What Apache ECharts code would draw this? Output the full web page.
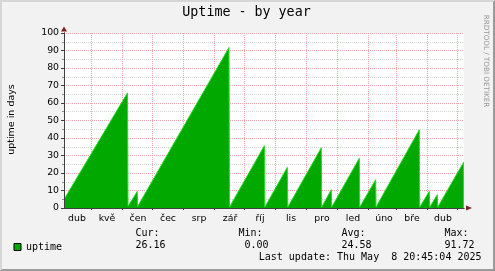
<!DOCTYPE html>
<html><head><meta charset="utf-8">
<script src="https://cdn.jsdelivr.net/npm/echarts@6/dist/echarts.min.js"></script>
<style>html,body{margin:0;padding:0;background:#f2f2f2}#c{width:495px;height:271px}</style>
</head><body><div id="c"></div>
<script>
// ---- data ----
const monthLabels = ['dub','kvě','čen','čec','srp','zář','říj','lis','pro','led','úno','bře','dub'];
const labelDays = [13, 43, 74, 104, 135, 166, 196, 227, 258, 289, 320, 348, 379];
const monthStartDays = [27, 58, 88, 119, 150, 180, 211, 242, 273, 304, 332, 363, 393];
const uptimeDays = [0, 63.5, 64, 73.3, 73.6, 165, 165.5, 200.4, 200.8, 223.3, 223.8, 257.3, 257.7, 267.3, 267.7, 295.3, 295.7, 311.7, 312, 355.3, 355.7, 365.3, 365.7, 373.3, 373.7, 399.7];
const uptimeValues = [4.8, 65.8, 1, 9.5, 0.8, 91.7, 0.5, 35.6, 0.5, 23.2, 0.5, 34.4, 0.5, 10.5, 0.5, 28.4, 0.5, 16.2, 0.5, 44.7, 0.5, 9.5, 0.5, 7.6, 0.5, 26.2];
const statLabels = ['Cur:', 'Min:', 'Avg:', 'Max:'];
const statValues = ['26.16', '0.00', '24.58', '91.72'];
const titleText = 'Uptime - by year';
const yAxisName = 'uptime in days';
const lastUpdate = 'Last update: Thu May  8 20:45:04 2025';
const watermark = 'RRDTOOL / TOBI OETIKER';

// ---- styles ----
const MONO = 'DejaVu Sans Mono';
const SANS = 'DejaVu Sans';
const axisFont = {fontFamily: SANS, fontSize: 9.33, color: '#000'};
const MGRID = '#F2A8A8', GRID = '#D4D4D4', AXIS = '#404040', ARROW = '#7F1F1F';
const statX = [135.5, 238.5, 341.5, 444.5];

const chart = echarts.init(document.getElementById('c'), null, {renderer: 'canvas'});

const graphics = [
  {type: 'polygon', silent: true, shape: {points: [[0,271],[2,269],[2,2],[493,2],[495,0],[0,0]]}, style: {fill: '#D6D6D6'}},
  {type: 'polygon', silent: true, shape: {points: [[2,269],[493,269],[493,2],[495,0],[495,271],[0,271]]}, style: {fill: '#9A9A9A'}},
  {type: 'text', silent: true, x: 246.5, y: 12.8, style: {text: titleText, font: '13.33px "' + MONO + '"', fill: '#000', align: 'center', verticalAlign: 'middle'}},
  {type: 'text', silent: true, x: 12, y: 119.5, rotation: Math.PI / 2, style: {text: yAxisName, font: '9.5px "' + SANS + '"', fill: '#000', align: 'center', verticalAlign: 'middle'}},
  {type: 'text', silent: true, x: 485.5, y: 61, rotation: -Math.PI / 2, style: {text: watermark, font: '7.2px "' + SANS + '"', fill: '#999999', align: 'center', verticalAlign: 'middle'}},
  {type: 'text', silent: true, x: 481.5, y: 257, style: {text: lastUpdate, font: '10px "' + MONO + '"', fill: '#000', align: 'right', verticalAlign: 'middle'}}
];
statLabels.forEach((s, i) => {
  graphics.push({type: 'text', silent: true, x: statX[i], y: 233.3, style: {text: s, font: '10px "' + MONO + '"', fill: '#000', align: 'left', verticalAlign: 'middle'}});
  graphics.push({type: 'text', silent: true, x: statX[i] + 30.1, y: 245.5, style: {text: statValues[i], font: '10px "' + MONO + '"', fill: '#000', align: 'right', verticalAlign: 'middle'}});
});

const option = {
  backgroundColor: '#f2f2f2',
  animation: false,
  grid: {left: 64, top: 33, width: 400, height: 175, show: true, backgroundColor: '#fff', borderWidth: 0},
  legend: {
    data: ['uptime'], left: 13.5, top: 242, padding: 0, itemWidth: 7, itemHeight: 7, icon: 'rect', selectedMode: false,
    itemStyle: {color: '#00A800', borderColor: '#000', borderWidth: 1},
    textStyle: {fontFamily: MONO, fontSize: 10, color: '#000'}
  },
  xAxis: [
    {type: 'value', min: 0, max: 400, position: 'bottom', z: 0,
      axisLine: {show: false}, axisTick: {show: false, customValues: monthStartDays}, axisLabel: {show: false},
      splitLine: {show: true, lineStyle: {color: MGRID, width: 1, type: [1, 1]}}},
    {type: 'value', min: 0, max: 400, position: 'bottom', z: 3,
      axisLine: {show: true, lineStyle: {color: ARROW, width: 1}, symbol: ['none', 'triangle'], symbolSize: [5, 6], symbolOffset: [0, 5]},
      axisTick: {show: false}, axisLabel: {show: false}, splitLine: {show: false}},
    {type: 'value', min: 0, max: 400, position: 'bottom', z: 4,
      axisLine: {show: true, lineStyle: {color: AXIS, width: 1}},
      axisTick: {show: true, length: 2, customValues: monthStartDays, lineStyle: {color: AXIS}},
      axisLabel: Object.assign({show: true, customValues: labelDays, margin: 6,
        formatter: (v) => monthLabels[labelDays.indexOf(v)]}, axisFont),
      splitLine: {show: false}}
  ],
  yAxis: [
    {type: 'value', min: 0, max: 100, interval: 10, position: 'left', z: 0,
      axisLine: {show: false}, axisTick: {show: false}, axisLabel: {show: false},
      splitLine: {show: true, lineStyle: {color: MGRID, width: 1, type: [1, 1]}},
      minorTick: {show: false, splitNumber: 2},
      minorSplitLine: {show: true, lineStyle: {color: GRID, width: 1, type: [1, 1]}}},
    {type: 'value', min: 0, max: 100, interval: 10, position: 'left', z: 3,
      axisLine: {show: true, lineStyle: {color: ARROW, width: 1}, symbol: ['none', 'triangle'], symbolSize: [6, 5], symbolOffset: [0, 4]},
      axisTick: {show: false}, axisLabel: {show: false}, splitLine: {show: false}},
    {type: 'value', min: 0, max: 100, interval: 10, position: 'left', z: 4,
      axisLine: {show: true, lineStyle: {color: AXIS, width: 1}},
      axisTick: {show: true, length: 3, lineStyle: {color: AXIS}},
      minorTick: {show: true, splitNumber: 2, length: 2, lineStyle: {color: '#909090'}},
      axisLabel: Object.assign({show: true, margin: 5}, axisFont),
      splitLine: {show: false}}
  ],
  series: [{
    name: 'uptime', type: 'line', xAxisIndex: 0, yAxisIndex: 0, z: 2, silent: true,
    data: uptimeDays.map((d, i) => [d, uptimeValues[i]]),
    showSymbol: false, symbol: 'none',
    lineStyle: {color: '#22DD22', width: 1},
    itemStyle: {color: '#00A800'},
    areaStyle: {color: '#00A800', opacity: 1}
  }],
  graphic: graphics
};
chart.setOption(option);
</script>
</body></html>
